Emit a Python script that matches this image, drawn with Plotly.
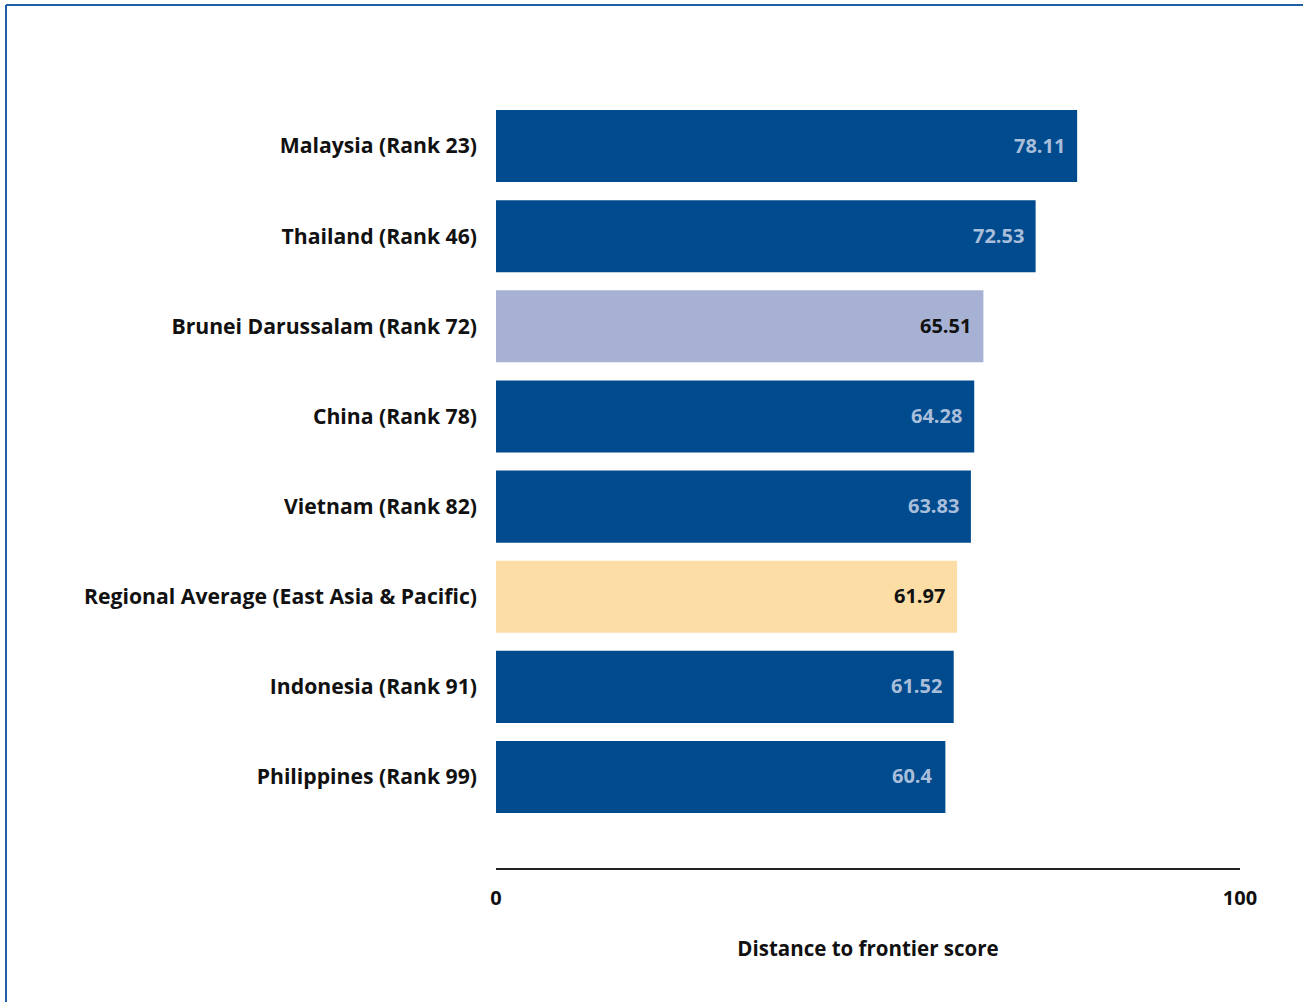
import plotly.graph_objects as go

categories = ["Malaysia (Rank 23)", "Thailand (Rank 46)", "Brunei Darussalam (Rank 72)",
              "China (Rank 78)", "Vietnam (Rank 82)", "Regional Average (East Asia & Pacific)",
              "Indonesia (Rank 91)", "Philippines (Rank 99)"]
values = [78.11, 72.53, 65.51, 64.28, 63.83, 61.97, 61.52, 60.4]
value_labels = ["78.11", "72.53", "65.51", "64.28", "63.83", "61.97", "61.52", "60.4"]
tick_vals = [0, 100]
tick_text = ["0", "100"]

DARK = "#004B8D"
colors = []
text_colors = []
for c in categories:
    if c.startswith("Brunei"):
        colors.append("#A6B1D4"); text_colors.append("#111111")
    elif c.startswith("Regional"):
        colors.append("#FDDDA6"); text_colors.append("#111111")
    else:
        colors.append(DARK); text_colors.append("#A9BEDA")

cats_r = categories[::-1]
vals_r = values[::-1]

fig = go.Figure()
fig.add_trace(go.Bar(
    x=vals_r, y=cats_r, orientation="h",
    marker=dict(color=colors[::-1], line=dict(width=0)),
    width=0.8, hoverinfo="x+y",
))

FONT = "Open Sans"
FS = 20
for c, v, t, tc in zip(categories, values, value_labels, text_colors):
    fig.add_annotation(x=v, y=c, text="<b>" + t + "</b>", showarrow=False,
                       xanchor="right", xshift=-10, yshift=1,
                       font=dict(family=FONT, size=FS, color=tc))

fig.update_layout(
    width=1303, height=1002,
    margin=dict(l=496, r=63, t=101, b=134),
    paper_bgcolor="white", plot_bgcolor="white",
    showlegend=False,
    xaxis=dict(range=[0, 100], tickvals=tick_vals, ticktext=["<b>%s</b>" % s for s in tick_text],
               showgrid=False, zeroline=False, showline=True, linecolor="#222222", linewidth=2,
               ticks="", ticklabelstandoff=11,
               tickfont=dict(family=FONT, size=FS, color="#111111"),
               title=dict(text="<b>Distance to frontier score</b>", standoff=32,
                          font=dict(family=FONT, size=20.5, color="#111111")),
               fixedrange=True),
    yaxis=dict(range=[-1.01, 7.5], categoryorder="array", categoryarray=cats_r,
               showgrid=False, zeroline=False, showline=False, ticks="",
               ticklabelstandoff=18,
               tickfont=dict(family=FONT, size=21.2, color="#111111"),
               tickmode="array", tickvals=cats_r, ticktext=["<b>%s</b>" % c for c in cats_r]),
    shapes=[
        dict(type="line", xref="paper", yref="paper", x0=(6 - 496) / 744, x1=(1303 - 496) / 744,
             y0=(868 - 5) / 767, y1=(868 - 5) / 767, line=dict(color="#1F5FA8", width=2)),
        dict(type="line", xref="paper", yref="paper", x0=(6 - 496) / 744, x1=(6 - 496) / 744,
             y0=(868 - 5) / 767, y1=(868 - 1002) / 767, line=dict(color="#1F5FA8", width=2)),
    ],
)

fig.write_html("out.html", config={"displayModeBar": False},
               post_script="document.body.style.margin='0';")
